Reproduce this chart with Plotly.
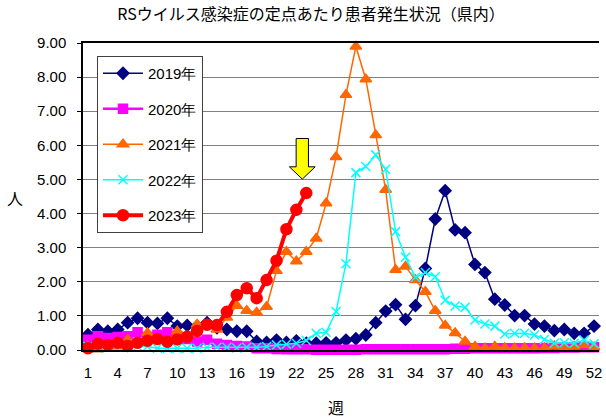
import plotly.graph_objects as go

weeks = list(range(1, 53))
tick_weeks = list(range(1, 53, 3))

y2019 = [0.45, 0.60, 0.55, 0.60, 0.80, 0.93, 0.80, 0.78, 0.93, 0.70,
         0.72, 0.70, 0.80, 0.65, 0.60, 0.55, 0.55, 0.25, 0.22, 0.29,
         0.22, 0.27, 0.20, 0.20, 0.21, 0.21, 0.29, 0.33, 0.44, 0.80,
         1.14, 1.33, 0.90, 1.30, 2.39, 3.84, 4.67, 3.52, 3.44, 2.51,
         2.27, 1.49, 1.32, 1.01, 1.01, 0.76, 0.70, 0.57, 0.60, 0.49,
         0.49, 0.70]
y2020 = [0.30, 0.40, 0.35, 0.38, 0.40, 0.52, 0.38, 0.45, 0.52, 0.40,
         0.32, 0.25, 0.30, 0.18, 0.15, 0.12, 0.10, 0.05, 0.05, 0.03,
         0.02, 0.02, 0.02, 0.01, 0.01, 0.01, 0.01, 0.01, 0.02, 0.02,
         0.02, 0.02, 0.02, 0.02, 0.02, 0.02, 0.02, 0.04, 0.04, 0.05,
         0.05, 0.05, 0.05, 0.05, 0.05, 0.05, 0.06, 0.06, 0.07, 0.07,
         0.08, 0.08]
y2021 = [0.10, 0.02, 0.15, 0.10, 0.30, 0.20, 0.50, 0.30, 0.25, 0.55,
         0.40, 0.75, 0.75, 0.60, 0.95, 1.30, 1.15, 1.10, 1.27, 2.32,
         2.88, 2.60, 2.88, 3.27, 4.30, 5.66, 7.48, 8.90, 7.94, 6.30,
         4.70, 2.35, 2.45, 2.05, 1.71, 1.15, 0.72, 0.50, 0.25, 0.10,
         0.05, 0.10, 0.06, 0.05, 0.06, 0.05, 0.05, 0.12, 0.08, 0.10,
         0.15, 0.08]
y2022 = [0.10, 0.05, 0.10, 0.08, 0.10, 0.10, 0.10, 0.05, 0.05, 0.05,
         0.05, 0.05, 0.08, 0.08, 0.08, 0.06, 0.08, 0.08, 0.10, 0.15,
         0.17, 0.20, 0.28, 0.49, 0.52, 1.13, 2.53, 5.20, 5.38, 5.72,
         5.30, 3.47, 2.72, 2.13, 2.27, 2.15, 1.46, 1.29, 1.25, 0.88,
         0.76, 0.70, 0.47, 0.49, 0.49, 0.44, 0.31, 0.20, 0.21, 0.20,
         0.29, 0.18]
y2023 = [0.05, 0.18, 0.15, 0.21, 0.12, 0.21, 0.27, 0.32, 0.24, 0.31,
         0.39, 0.56, 0.74, 0.73, 1.12, 1.61, 1.81, 1.52, 2.05, 2.62,
         3.54, 4.11, 4.60]

arrow_week = 22.6
arrow_top, arrow_neck, arrow_tip = 6.2, 5.37, 5.01
shaft_half, head_half = 0.62, 1.3

JP = "Noto Sans CJK JP"
LAT = "Liberation Sans"

W, H = 606, 419
PL, PR, PT, PB = 83, 599, 43, 350  # plot area in pixels

fig = go.Figure()
series = [
    ("2019年", y2019, "#000080", "diamond", 9, 1.5),
    ("2020年", y2020, "#FF00FF", "square", 9, 2.5),
    ("2021年", y2021, "#FF6600", "triangle-up", 10, 1.5),
    ("2022年", y2022, "#00FFFF", "x-thin-open", 9, 1.5),
    ("2023年", y2023, "#FF0000", "circle", 11, 4),
]
for name, ys, col, sym, ms, lw in series:
    fig.add_trace(go.Scatter(
        x=weeks[:len(ys)], y=ys, name=name, mode="lines+markers",
        line=dict(color=col, width=lw),
        marker=dict(symbol=sym, size=ms, color=col,
                    line=dict(color=col, width=1.5)),
        legendgroup=name, cliponaxis=False,
    ))

a = arrow_week
path = (f"M {a-shaft_half},{arrow_top} L {a+shaft_half},{arrow_top} "
        f"L {a+shaft_half},{arrow_neck} L {a+head_half},{arrow_neck} "
        f"L {a},{arrow_tip} L {a-head_half},{arrow_neck} "
        f"L {a-shaft_half},{arrow_neck} Z")
fig.add_shape(type="path", path=path, xref="x", yref="y",
              fillcolor="#FFFF00", line=dict(color="#000000", width=1))

pw, ph = PR - PL, PB - PT
fig.update_layout(
    width=W, height=H,
    margin=dict(l=PL, r=W - PR, t=PT, b=H - PB, pad=0, autoexpand=False),
    paper_bgcolor="white", plot_bgcolor="white",
    title=dict(text="RSウイルス感染症の定点あたり患者発生状況（県内）",
               x=311 / W, xref="container", xanchor="center",
               y=1 - 14 / H, yref="container", yanchor="middle",
               font=dict(family=JP, size=16, color="#000000")),
    legend=dict(x=(97 - PL) / pw, y=(PB - 56) / ph, xanchor="left", yanchor="top",
                bgcolor="white", bordercolor="#404040", borderwidth=1,
                font=dict(family=LAT, size=15, color="#000000"),
                tracegroupgap=13, itemwidth=40),
    showlegend=True,
    annotations=[
        dict(text="人", x=(15 - PL) / pw, y=(PB - 198) / ph, xref="paper", yref="paper",
             xanchor="center", yanchor="middle",
             showarrow=False, font=dict(family=JP, size=16, color="#000000")),
        dict(text="週", x=(336 - PL) / pw, y=(PB - 407) / ph, xref="paper", yref="paper",
             xanchor="center", yanchor="middle",
             showarrow=False, font=dict(family=JP, size=16, color="#000000")),
    ],
)
fig.update_xaxes(range=[0.5, 52.5], tickmode="array", tickvals=tick_weeks,
                 ticktext=[str(w) for w in tick_weeks],
                 showgrid=False, zeroline=False, automargin=False,
                 showline=True, linecolor="#000000", linewidth=1.5, mirror=True,
                 ticks="", ticklabelstandoff=8,
                 tickfont=dict(family=LAT, size=15, color="#000000"))
fig.update_yaxes(range=[0, 9], dtick=1, tickformat=".2f", automargin=False,
                 showgrid=True, gridcolor="#808080", gridwidth=1,
                 zeroline=False, showline=True, linecolor="#000000", linewidth=1.5,
                 ticks="outside", ticklen=4, tickcolor="#000000",
                 ticklabelstandoff=8,
                 tickfont=dict(family=LAT, size=15, color="#000000"))

fig.write_html("out.html", config={"displayModeBar": False},
               post_script="document.body.style.margin='0';document.body.style.padding='0';")
